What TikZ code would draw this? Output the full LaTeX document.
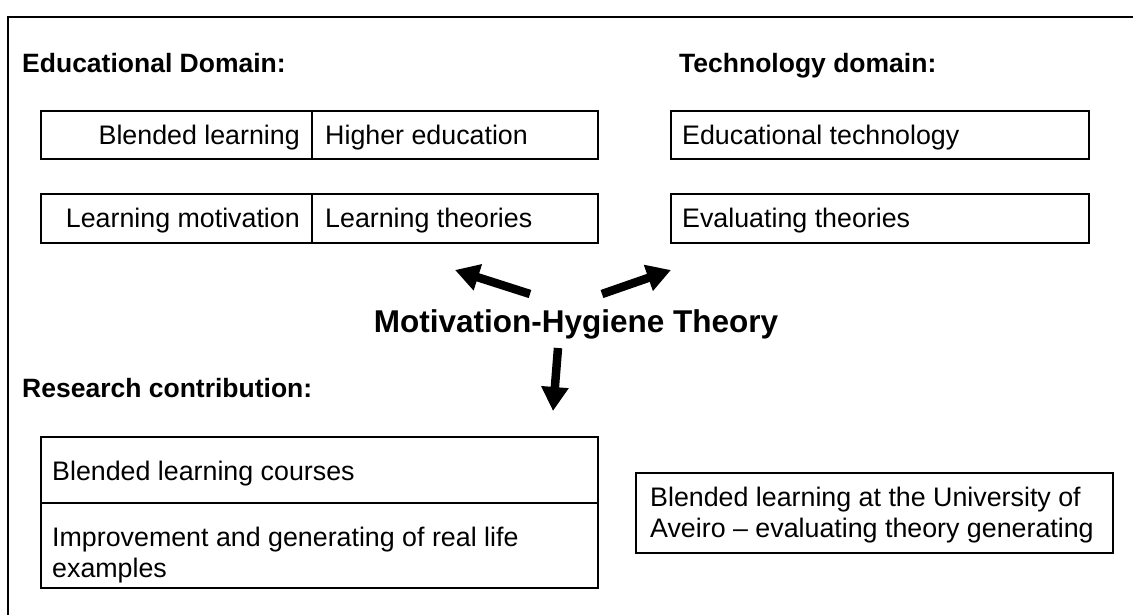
\documentclass[tikz,border=0pt]{standalone}
\usepackage{fontspec}
\setmainfont{Liberation Sans}
\usetikzlibrary{arrows.meta}
\begin{document}
\begin{tikzpicture}[x=1pt,y=-1pt,
  frame/.style={line width=2.4pt},
  box/.style={draw, line width=2pt, rectangle, inner sep=0pt, anchor=north west},
  txt/.style={font=\fontsize{26.8}{31}\selectfont, inner sep=0pt},
  head/.style={font=\bfseries\fontsize{26.5}{31}\selectfont, inner sep=0pt, anchor=base west},
  title/.style={font=\bfseries\fontsize{31.5}{36}\selectfont, inner sep=0pt},
  arr/.style={line width=8.5pt, -{Triangle[length=24pt,width=26pt]}}]
\useasboundingbox (0,0) rectangle (1133,614);
\begin{scope}
\clip (0,0) rectangle (1133,614);
\draw[frame] (8,630) -- (8,17) -- (1150,17);
\end{scope}

% headings
\node[head] (hedu) at (22,72) {Educational Domain:};
\node[head] (htech) at (679,72) {Technology domain:};
\node[head] (hres) at (22,397) {Research contribution:};

% educational domain boxes
\node[box, minimum width=557pt, minimum height=48pt] (e1) at (40,110) {};
\node[box, minimum width=557pt, minimum height=49pt] (e2) at (40,193) {};
\coordinate (dv) at (312,0);
\draw[line width=2pt] (e1.north -| dv) -- (e1.south -| dv);
\draw[line width=2pt] (e2.north -| dv) -- (e2.south -| dv);
\node[txt, anchor=base east] (t11) at (300,144) {Blended learning};
\node[txt, anchor=base west] (t12) at (325,144) {Higher education};
\node[txt, anchor=base east] (t21) at (300,227) {Learning motivation};
\node[txt, anchor=base west] (t22) at (325,227) {Learning theories};

% technology domain boxes
\node[box, minimum width=418pt, minimum height=48pt] (g1) at (670,110) {};
\node[box, minimum width=418pt, minimum height=49pt] (g2) at (670,193) {};
\node[txt, anchor=base west] (u1) at (682,144) {Educational technology};
\node[txt, anchor=base west] (u2) at (682,227) {Evaluating theories};

% centre
\node[title] (mh) at (576,324) {Motivation-Hygiene Theory};
\coordinate (la0) at (530,294);
\coordinate (la1) at (455,270);
\coordinate (ra0) at (602,294);
\coordinate (ra1) at (671,270);
\coordinate (da0) at (558,348);
\coordinate (da1) at (553,411);
\draw[arr] (la0) -- (la1);
\draw[arr] (ra0) -- (ra1);
\draw[arr] (da0) -- (da1);

% research contribution boxes
\node[box, minimum width=557pt, minimum height=151pt] (r1) at (40,436) {};
\coordinate (rh) at (0,503);
\draw[line width=2pt] (r1.west |- rh) -- (r1.east |- rh);
\node[txt, anchor=base west] (rt1) at (52,480) {Blended learning courses};
\node[txt, anchor=north west, align=left] (rt2) at (52,527) {Improvement and generating of real life\\examples};

\node[box, minimum width=477pt, minimum height=80pt] (r2) at (635,472) {};
\node[txt, anchor=north west, align=left] (rt3) at (650,487) {Blended learning at the University of\\Aveiro -- evaluating theory generating};
\end{tikzpicture}
\end{document}
